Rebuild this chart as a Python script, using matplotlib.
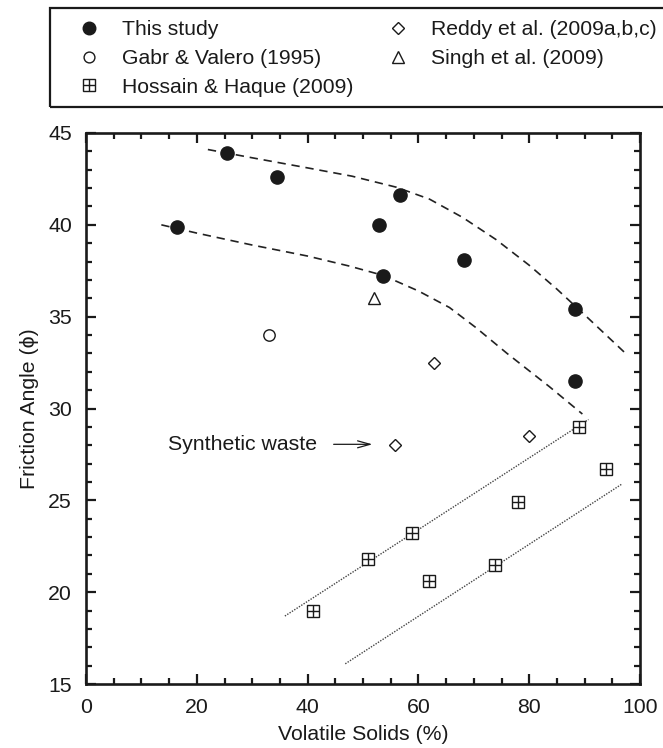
import matplotlib
matplotlib.use("Agg")
import matplotlib.pyplot as plt
from matplotlib.patches import Rectangle
from matplotlib.legend_handler import HandlerTuple
from matplotlib.ticker import MultipleLocator

plt.rcParams['font.family'] = ['Liberation Sans', 'DejaVu Sans']

# ---- data ----
this_x = [16.4, 25.4, 34.4, 52.8, 53.6, 56.6, 68.3, 88.3, 88.3]
this_y = [39.9, 43.9, 42.6, 40.0, 37.2, 41.6, 38.1, 35.4, 31.5]

gabr_x = [33.0]
gabr_y = [34.0]

singh_x = [51.9]
singh_y = [36.0]

reddy_x = [55.7, 62.9, 79.9]
reddy_y = [28.0, 32.5, 28.5]

hoss_x = [41.0, 50.9, 58.9, 61.9, 73.9, 77.9, 88.9, 93.9]
hoss_y = [19.0, 21.8, 23.2, 20.6, 21.5, 24.9, 29.0, 26.7]

upper_curve_x = [22, 30, 40, 48, 56, 62, 68, 74, 80, 85, 90, 97.4]
upper_curve_y = [44.1, 43.65, 43.1, 42.65, 42.05, 41.4, 40.4, 39.2, 37.8, 36.5, 35.1, 33.0]

lower_curve_x = [13.6, 20, 30, 40, 47.6, 53.6, 60, 65.6, 70.4, 76, 83.6, 89.6]
lower_curve_y = [40.0, 39.55, 38.9, 38.3, 37.75, 37.25, 36.4, 35.5, 34.4, 33.0, 31.2, 29.7]

upper_dot_x = [35.9, 90.7]
upper_dot_y = [18.7, 29.4]
lower_dot_x = [46.8, 96.8]
lower_dot_y = [16.1, 25.9]

W, H = 663, 748
fig = plt.figure(figsize=(W / 100, H / 100), dpi=100)
ax = fig.add_axes([86 / W, 1 - 684 / H, (640 - 86) / W, (684 - 133) / H])

fs = 15.3
lfs = 15.2
ink = '#1a1a1a'
ax.plot(upper_curve_x, upper_curve_y, color='#222222', lw=1.2, ls=(0, (5, 3.5)))
ax.plot(lower_curve_x, lower_curve_y, color='#222222', lw=1.2, ls=(0, (5, 3.5)))
ax.plot(upper_dot_x, upper_dot_y, color='#444444', lw=1.0, ls=(0, (1, 1)))
ax.plot(lower_dot_x, lower_dot_y, color='#444444', lw=1.0, ls=(0, (1, 1)))

h1, = ax.plot(this_x, this_y, 'o', color=ink, ms=9.5, mec=ink, ls='none')
h2, = ax.plot(gabr_x, gabr_y, 'o', mfc='white', mec=ink, ms=8.2, mew=1.0, ls='none')
h3a, = ax.plot(hoss_x, hoss_y, 's', mfc='white', mec=ink, ms=9, mew=1.0, ls='none')
h3b, = ax.plot(hoss_x, hoss_y, '+', color=ink, ms=9, mew=1.0, ls='none')
h4, = ax.plot(reddy_x, reddy_y, 'D', mfc='white', mec=ink, ms=6.2, mew=1.0, ls='none')
h5, = ax.plot(singh_x, singh_y, '^', mfc='white', mec=ink, ms=9, mew=1.0, ls='none')

ax.annotate('', xy=(52.2, 28.05), xytext=(44.2, 28.05),
            arrowprops=dict(arrowstyle='->,head_length=0.9,head_width=0.25', color=ink, lw=0.9))
ax.text(14.8, 28.05, 'Synthetic waste', fontsize=fs, va='center', ha='left', color=ink)

ax.set_xlim(0, 100)
ax.set_ylim(15, 45)
ax.xaxis.set_major_locator(MultipleLocator(20))
ax.xaxis.set_minor_locator(MultipleLocator(5))
ax.yaxis.set_major_locator(MultipleLocator(5))
ax.yaxis.set_minor_locator(MultipleLocator(1))
ax.tick_params(which='both', direction='in', top=True, right=True, width=1.6, color=ink,
               labelsize=fs, labelcolor=ink)
ax.tick_params(which='major', length=7, pad=10)
ax.tick_params(which='minor', length=4)
for s in ax.spines.values():
    s.set_linewidth(1.9)
    s.set_color(ink)

ax.set_xlabel('Volatile Solids (%)', fontsize=fs, color=ink, labelpad=6)
ax.set_ylabel('Friction Angle (ϕ)', fontsize=fs, color=ink, labelpad=7)

# legend frame
rect = Rectangle((50 / W, 1 - 107 / H), 1.0, 99 / H, transform=fig.transFigure,
                 fill=False, lw=1.6, ec=ink, clip_on=False)
fig.patches.append(rect)

leg = fig.legend([h1, h2, (h3a, h3b), h4, h5],
                 ['This study', 'Gabr & Valero (1995)', 'Hossain & Haque (2009)',
                  'Reddy et al. (2009a,b,c)', 'Singh et al. (2009)'],
                 handler_map={tuple: HandlerTuple(ndivide=1)},
                 ncol=2, loc='upper left', bbox_to_anchor=(78.5 / W, 1 - 20 / H),
                 frameon=False, fontsize=lfs, markerscale=0.95, handlelength=1.0,
                 handletextpad=1.07, columnspacing=1.6, labelspacing=0.47, borderpad=0,
                 borderaxespad=0)
for t in leg.get_texts():
    t.set_color(ink)

fig.savefig('out.png', dpi=100)
